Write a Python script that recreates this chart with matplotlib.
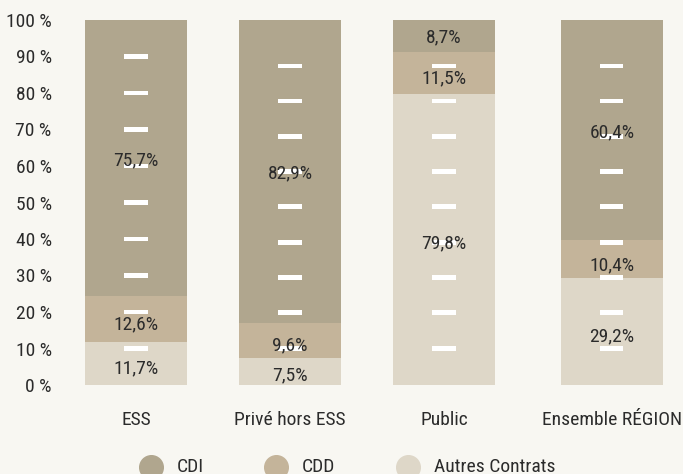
import matplotlib
matplotlib.use("Agg")
import matplotlib.pyplot as plt
from matplotlib.lines import Line2D

# ============================
#   DONNÉES
# ============================

categories = ["ESS", "Privé hors ESS", "Public", "Ensemble RÉGION"]
cdi = [75.7, 82.9, 8.7, 60.4]
cdd = [12.6, 9.6, 11.5, 10.4]
autres = [11.7, 7.5, 79.8, 29.2]
y_ticks = [0, 10, 20, 30, 40, 50, 60, 70, 80, 90, 100]
legende = ["CDI", "CDD", "Autres Contrats"]

# tirets blancs décoratifs dans chaque barre (en %)
tirets_ess = [10, 20, 30, 40, 50, 60, 70, 80, 90]
tirets_autres = [10.1, 19.8, 29.4, 39.1, 48.8, 58.4, 68.1, 77.8, 87.4]

# ============================
#   STYLE
# ============================

FOND = "#f8f7f2"
C_CDI = "#b0a68e"
C_CDD = "#c4b49a"
C_AUT = "#ded7c8"
TEXTE = "#2b2b2b"

plt.rcParams["font.family"] = ["Roboto Condensed", "DejaVu Sans"]

x = [0, 1, 2, 3.09]
largeur = 0.662

fig = plt.figure(figsize=(6.83, 4.74), dpi=100, facecolor=FOND)
ax = fig.add_axes([60 / 683, 89 / 474, 623 / 683, 365 / 474], facecolor=FOND)

bas_cdd = autres
bas_cdi = [a + b for a, b in zip(autres, cdd)]

ax.bar(x, autres, width=largeur, color=C_AUT, zorder=2)
ax.bar(x, cdd, width=largeur, bottom=bas_cdd, color=C_CDD, zorder=2)
ax.bar(x, cdi, width=largeur, bottom=bas_cdi, color=C_CDI, zorder=2)

# tirets
for i, xi in enumerate(x):
    pos = tirets_ess if i == 0 else tirets_autres
    for p in pos:
        ax.bar(xi, 1.35, bottom=p - 0.675, width=0.15, color="white", zorder=3)

# étiquettes
def fmt(v):
    return f"{v:.1f}%".replace(".", ",")

for i, xi in enumerate(x):
    ax.text(xi, autres[i] / 2 - 1.2, fmt(autres[i]), ha="center", va="center",
            fontsize=14, color=TEXTE, zorder=4)
    ax.text(xi, bas_cdd[i] + cdd[i] / 2 - 1.5, fmt(cdd[i]), ha="center", va="center",
            fontsize=14, color=TEXTE, zorder=4)
    ax.text(xi, bas_cdi[i] + cdi[i] / 2 - 0.5, fmt(cdi[i]), ha="center", va="center",
            fontsize=14, color=TEXTE, zorder=4)

ax.set_xlim((60 - 136) / 154, (683 - 136) / 154)
ax.set_ylim(0, 100)
ax.set_yticks(y_ticks)
ax.set_yticklabels([f"{v} %" for v in y_ticks])
ax.set_xticks(x)
ax.set_xticklabels(categories)
ax.tick_params(axis="y", length=0, pad=6, labelsize=14, labelcolor=TEXTE)
ax.tick_params(axis="x", length=0, pad=19, labelsize=14, labelcolor=TEXTE)
for s in ax.spines.values():
    s.set_visible(False)

# légende
pos_leg = [151, 276, 408]
couleurs = [C_CDI, C_CDD, C_AUT]
y_leg = (474 - 467) / 474
for px, nom, c in zip(pos_leg, legende, couleurs):
    fig.add_artist(Line2D([px / 683], [y_leg], transform=fig.transFigure,
                          marker="o", markersize=17, color=c, linestyle=""))
    fig.text((px + 26) / 683, y_leg, nom, ha="left", va="center",
             fontsize=14, color=TEXTE)

fig.savefig("out.png", dpi=100, facecolor=FOND)
